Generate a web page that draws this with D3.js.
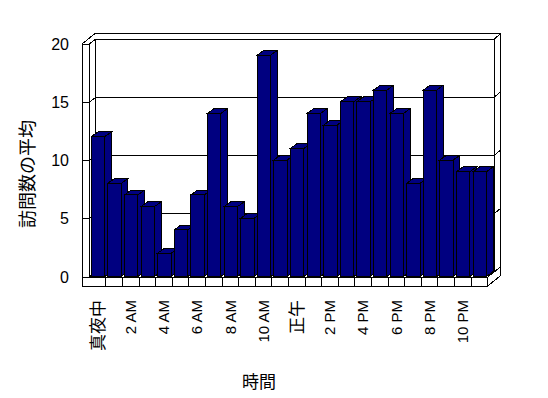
<!DOCTYPE html>
<html>
<head>
<meta charset="utf-8">
<script src="https://cdn.jsdelivr.net/npm/d3@7"></script>
<style>
    body { margin: 0; background: #fff; }
    svg { display: block; }
    .latin { font-family: "Liberation Sans", Arial, sans-serif; }
    .cjk { font-family: "Noto Sans CJK JP", sans-serif; }
</style>
</head>
<body>
<svg id="chart" width="548" height="398"></svg>
<script>
// hourly categories and average visit counts
const hours = ["真夜中", "1 AM", "2 AM", "3 AM", "4 AM", "5 AM", "6 AM", "7 AM", "8 AM", "9 AM", "10 AM", "11 AM",
    "正午", "1 PM", "2 PM", "3 PM", "4 PM", "5 PM", "6 PM", "7 PM", "8 PM", "9 PM", "10 PM", "11 PM"];
const visits = [12, 8, 7, 6, 2, 4, 7, 14, 6, 5, 19, 10, 11, 14, 13, 15, 15, 16, 14, 8, 16, 10, 9, 9];
const yTicks = [0, 5, 10, 15, 20];
const yTitle = "訪問数の平均";
const xTitle = "時間";

const svg = d3.select("#chart").attr("shape-rendering", "crispEdges");

// frame geometry (front plane)
const outerLeft = 82, floorBot = 286;
const bf = { x: 6.5, y: -5 };     // back wall front face offset
const bo = { x: 13, y: -10.5 };   // back wall outer offset
const barDepth = { x: 6.6, y: -4.8 };

const x = d3.scaleBand().domain(hours).range([89.3, 487.7]);
const y = d3.scaleLinear().domain([0, 20]).range([277, 44]);

const innerLeft = x.range()[0], right = x.range()[1];
const floorTop = y(0), plotTop = y(20);

const line = (x1, y1, x2, y2) => svg.append("line")
    .attr("x1", x1).attr("y1", y1).attr("x2", x2).attr("y2", y2)
    .attr("stroke", "#000").attr("stroke-width", 1);

// back wall, left wall and floor outline
line(outerLeft, plotTop, outerLeft + bo.x, plotTop + bo.y);
line(innerLeft, plotTop, innerLeft + bf.x, plotTop + bf.y);
line(outerLeft + bo.x, plotTop + bo.y, right + bo.x, plotTop + bo.y);
line(right + bf.x, plotTop + bf.y, right + bo.x, plotTop + bo.y);
line(right + bo.x, plotTop + bo.y, right + bo.x, floorBot + bo.y);
line(right + bf.x, plotTop + bf.y, right + bf.x, floorTop + bf.y);
line(innerLeft + bf.x, plotTop + bf.y, innerLeft + bf.x, floorTop + bf.y);
line(innerLeft + bf.x, floorTop + bf.y, right + bf.x, floorTop + bf.y);
line(right, floorTop, right + bf.x, floorTop + bf.y);
line(right, floorBot, right + bo.x, floorBot + bo.y);
line(outerLeft, plotTop, innerLeft, plotTop);
line(outerLeft, plotTop, outerLeft, floorBot);
line(innerLeft, plotTop, innerLeft, floorTop);
line(innerLeft, floorTop, right, floorTop);
line(outerLeft, floorBot, right, floorBot);
line(right, floorTop, right, floorBot);

// gridlines
yTicks.forEach(v => {
    const yy = y(v);
    line(outerLeft, yy, innerLeft, yy);
    line(innerLeft, yy, innerLeft + bf.x, yy + bf.y);
    line(innerLeft + bf.x, yy + bf.y, right + bf.x, yy + bf.y);
    line(right + bf.x, yy + bf.y, right + bo.x, yy + bo.y);
});

// floor front dividers
hours.slice(1).forEach(h => line(x(h), floorTop, x(h), floorBot));

// bars
const barW = 13.4;
hours.forEach((h, i) => {
    const x0 = x(h) + 2, x1 = x0 + barW;
    const yb = floorTop - 0.5, yt = y(visits[i]) - 0.5;
    const dx = barDepth.x, dy = barDepth.y;
    const g = svg.append("g").attr("fill", "#000080").attr("stroke", "#000").attr("stroke-width", 1);
    g.append("polygon").attr("points", [[x1, yt], [x1 + dx, yt + dy], [x1 + dx, yb + dy], [x1, yb]].join(" "));
    g.append("polygon").attr("points", [[x0, yt], [x0 + dx, yt + dy], [x1 + dx, yt + dy], [x1, yt]].join(" "));
    g.append("rect").attr("x", x0).attr("y", yt).attr("width", barW).attr("height", yb - yt);
});

// y tick labels
svg.selectAll(".ytick")
    .data(yTicks)
    .enter()
    .append("text")
    .attr("class", "ytick latin")
    .attr("x", 69)
    .attr("y", d => y(d))
    .attr("dy", "0.35em")
    .attr("text-anchor", "end")
    .attr("font-size", "16px")
    .text(d => d);

// x tick labels, every other hour
const isCjk = s => /[\u3000-\u9fff]/.test(s);
svg.selectAll(".xtick")
    .data(hours.filter((h, i) => i % 2 === 0))
    .enter()
    .append("text")
    .attr("class", d => "xtick " + (isCjk(d) ? "cjk" : "latin"))
    .attr("transform", d => `translate(${x(d) + x.bandwidth() / 2}, 300) rotate(-90)`)
    .attr("dy", "0.35em")
    .attr("text-anchor", "end")
    .attr("font-size", d => isCjk(d) ? "17px" : "15px")
    .text(d => d);

// axis titles
svg.append("text")
    .attr("class", "cjk")
    .attr("transform", "translate(28, 174) rotate(-90)")
    .attr("dy", "0.35em")
    .attr("text-anchor", "middle")
    .attr("font-size", "18px")
    .text(yTitle);

svg.append("text")
    .attr("class", "cjk")
    .attr("x", 259)
    .attr("y", 382)
    .attr("dy", "0.35em")
    .attr("text-anchor", "middle")
    .attr("font-size", "17px")
    .text(xTitle);
</script>
</body>
</html>
